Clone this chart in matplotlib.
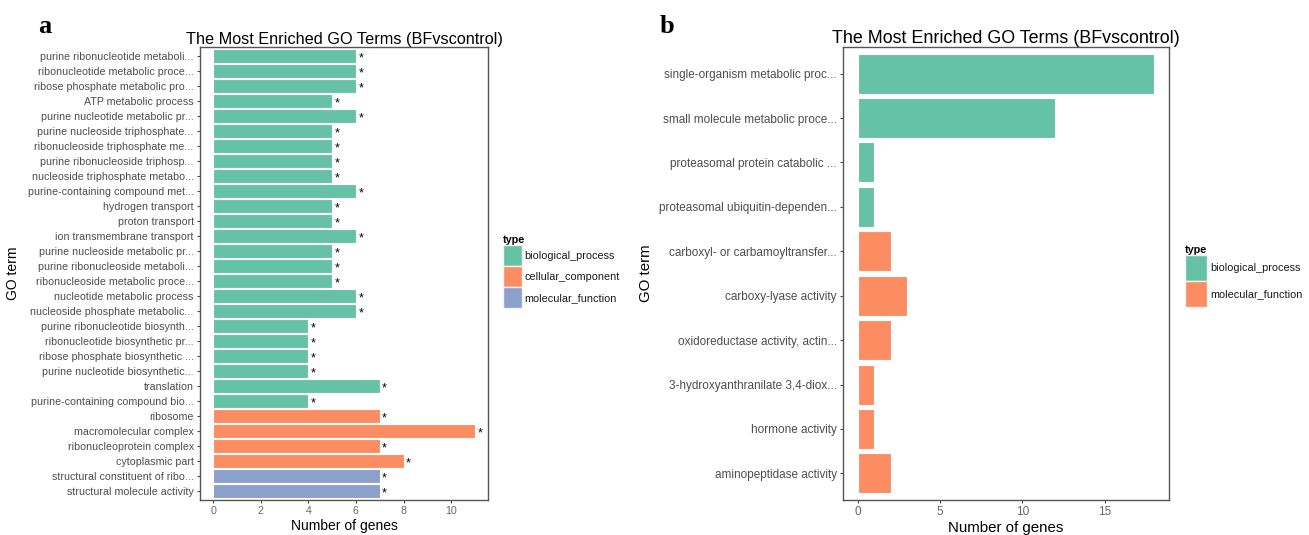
import numpy as np
import matplotlib
matplotlib.use("Agg")
import matplotlib.pyplot as plt
from matplotlib.patches import Patch

plt.rcParams['font.family'] = ['Liberation Sans', 'DejaVu Sans']

W, H = 1309, 535

# panel a data (top to bottom)
terms_a = [
    "purine ribonucleotide metaboli...", "ribonucleotide metabolic proce...",
    "ribose phosphate metabolic pro...", "ATP metabolic process",
    "purine nucleotide metabolic pr...", "purine nucleoside triphosphate...",
    "ribonucleoside triphosphate me...", "purine ribonucleoside triphosp...",
    "nucleoside triphosphate metabo...", "purine-containing compound met...",
    "hydrogen transport", "proton transport", "ion transmembrane transport",
    "purine nucleoside metabolic pr...", "purine ribonucleoside metaboli...",
    "ribonucleoside metabolic proce...", "nucleotide metabolic process",
    "nucleoside phosphate metabolic...", "purine ribonucleotide biosynth...",
    "ribonucleotide biosynthetic pr...", "ribose phosphate biosynthetic ...",
    "purine nucleotide biosynthetic...", "translation",
    "purine-containing compound bio...", "ribosome", "macromolecular complex",
    "ribonucleoprotein complex", "cytoplasmic part",
    "structural constituent of ribo...", "structural molecule activity",
]
counts_a = [6, 6, 6, 5, 6, 5, 5, 5, 5, 6, 5, 5, 6, 5, 5, 5, 6, 6, 4, 4, 4, 4, 7, 4,
            7, 11, 7, 8, 7, 7]
types_a = ["biological_process"] * 24 + ["cellular_component"] * 4 + ["molecular_function"] * 2

# panel b data (top to bottom)
terms_b = [
    "single-organism metabolic proc...", "small molecule metabolic proce...",
    "proteasomal protein catabolic ...", "proteasomal ubiquitin-dependen...",
    "carboxyl- or carbamoyltransfer...", "carboxy-lyase activity",
    "oxidoreductase activity, actin...", "3-hydroxyanthranilate 3,4-diox...",
    "hormone activity", "aminopeptidase activity",
]
counts_b = [18, 12, 1, 1, 2, 3, 2, 1, 1, 2]
types_b = ["biological_process"] * 4 + ["molecular_function"] * 6

# ggplot hands out Set2 colours in order of the levels present in each panel
set2 = ["#66c2a5", "#fc8d62", "#8da0cb"]
grey = "#4d4d4d"
title = "The Most Enriched GO Terms (BFvscontrol)"


def px_rect(x0, x1, top, bottom):
    return [x0 / W, 1 - bottom / H, (x1 - x0) / W, (bottom - top) / H]


def level_colours(types):
    levels = sorted(set(types))
    return {lv: set2[i] for i, lv in enumerate(levels)}


def draw_panel(ax, terms, counts, types, tick_fs, title_fs, lab_fs, xmax, ticks, stars):
    n = len(terms)
    y = np.arange(n)[::-1]
    pal = level_colours(types)
    cols = [pal[t] for t in types]
    ax.barh(y, counts, height=0.9, color=cols, edgecolor="white", linewidth=0.8)
    if stars:
        for yi, c in zip(y, counts):
            ax.text(c + 0.1, yi - 0.15, "*", fontsize=9, ha="left", va="center", color="black")
    ax.set_yticks(y)
    ax.set_yticklabels(terms, fontsize=tick_fs, color=grey)
    ax.set_xticks(ticks)
    ax.set_xticklabels([str(t) for t in ticks], fontsize=tick_fs, color="#666666")
    ax.set_ylim(-0.6, n - 0.4)
    ax.set_xlim(-0.05 * xmax, xmax * 1.05)
    ax.tick_params(length=2.5, width=0.8, color=grey, pad=2)
    for s in ax.spines.values():
        s.set_color("#555555")
        s.set_linewidth(1.0)
    ax.set_title(title, fontsize=title_fs, pad=2)
    ax.set_xlabel("Number of genes", fontsize=lab_fs, labelpad=2)
    ax.set_ylabel("GO term", fontsize=lab_fs)
    return pal


fig = plt.figure(figsize=(W / 100, H / 100), dpi=100)

ax_a = fig.add_axes(px_rect(200, 488, 47, 500))
pal_a = draw_panel(ax_a, terms_a, counts_a, types_a, 7.7, 11.7, 10, 11, [0, 2, 4, 6, 8, 10], True)
ax_a.yaxis.set_label_coords((20 - 200) / 288, 0.5)

ax_b = fig.add_axes(px_rect(843, 1169, 47, 500))
pal_b = draw_panel(ax_b, terms_b, counts_b, types_b, 8.5, 12.9, 10.8, 18, [0, 5, 10, 15], False)
ax_b.yaxis.set_label_coords((653 - 843) / 326, 0.5)


def add_legend(pal, x, top, hl, hh):
    handles = [Patch(facecolor=c, edgecolor="#f2f2f2", label=k) for k, c in pal.items()]
    leg = fig.legend(handles=handles, title="type", loc="upper left",
                     bbox_to_anchor=(x / W, 1 - top / H), frameon=False,
                     fontsize=7.8, title_fontsize=7.8, borderaxespad=0, borderpad=0,
                     handlelength=hl, handleheight=hh, labelspacing=0.0,
                     handletextpad=0.25, alignment="left")
    leg.get_title().set_fontweight("bold")
    for t in leg.get_texts():
        t.set_color("#1a1a1a")


add_legend(pal_a, 503, 235, 1.76, 2.61)
add_legend(pal_b, 1185, 245, 2.04, 3.32)

fig.text(38 / W, 1 - 33 / H, "a", fontsize=19, fontweight="bold",
         family="Liberation Serif", va="baseline")
fig.text(660 / W, 1 - 33 / H, "b", fontsize=19, fontweight="bold",
         family="Liberation Serif", va="baseline")

fig.savefig("out.png", dpi=100)
